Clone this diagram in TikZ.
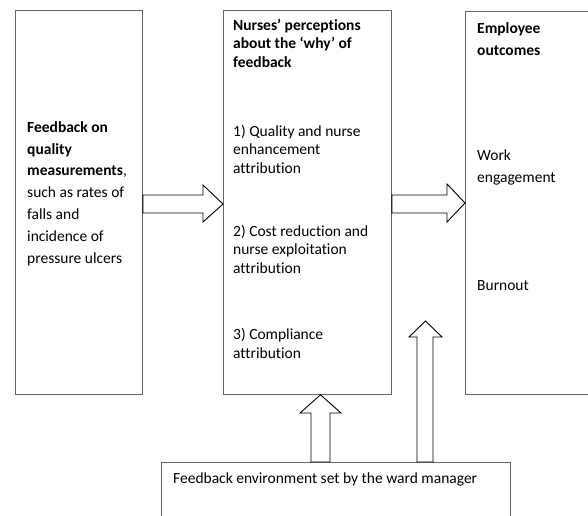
\documentclass[tikz,border=0pt]{standalone}
\usepackage{fontspec}
\setmainfont[Ligatures=NoCommon]{Carlito}
\usepackage{tikz}

\begin{document}
\begin{tikzpicture}[x=1pt, y=-1pt,
    box/.style={draw=black!60, line width=0.8pt, anchor=north west},
    txt/.style={anchor=base west, align=left, inner sep=0pt, font=\fontsize{15.5}{18.3}\selectfont},
    widetxt/.style={txt, font=\fontsize{15.5}{21.8}\selectfont},
    hollow/.style={draw=black, line width=0.9pt, fill=white}]
  \clip (0,0) rectangle (588,515);

  % Boxes
  \node[box, minimum width=127pt, minimum height=384pt] (quality) at (15,10) {};
  \node[box, minimum width=168pt, minimum height=384pt] (why) at (223,10) {};
  \node[box, minimum width=150pt, minimum height=383pt] (outcomes) at (465,11) {};
  \node[box, minimum width=349pt, minimum height=80pt] (environment) at (161,462) {};

  % Texts in the boxes (placed at the baseline of their last line)
  \node[widetxt] (qualitytext) at (27,263) {\textbf{Feedback on}\\\textbf{quality}\\\textbf{measurements},\\such as rates of\\falls and\\incidence of\\pressure ulcers};
  \node[txt] (whytitle) at (233,67) {\textbf{Nurses’ perceptions}\\\textbf{about the ‘why’ of}\\\textbf{feedback}};
  \node[txt] (attrone) at (233,173) {1) Quality and nurse\\enhancement\\attribution};
  \node[txt] (attrtwo) at (233,273) {2) Cost reduction and\\nurse exploitation\\attribution};
  \node[txt] (attrthree) at (233,358) {3) Compliance\\attribution};
  \node[widetxt] (outtitle) at (477,55) {\textbf{Employee}\\\textbf{outcomes}};
  \node[widetxt] (engagement) at (477,182) {Work\\engagement};
  \node[txt] (burnout) at (477,290) {Burnout};
  \node[txt] (envtext) at (173,483) {Feedback environment set by the ward manager};

  % Block arrows between the boxes
  \draw[hollow] (quality.east |- 0,195) -- (203,195) -- (203,185) -- (why.west |- 0,204)
    -- (203,222) -- (203,213) -- (quality.east |- 0,213) -- cycle;
  \draw[hollow] (why.east |- 0,195) -- (447,195) -- (447,184) -- (outcomes.west |- 0,203)
    -- (447,222) -- (447,213) -- (why.east |- 0,213) -- cycle;

  % Block arrows from the ward manager
  \draw[hollow] (311,0 |- environment.north) -- (311,413) -- (300,413) -- (why.south -| 320.5,0)
    -- (341,413) -- (330,413) -- (330,0 |- environment.north) -- cycle;
  \draw[hollow] (417,0 |- environment.north) -- (417,337) -- (409,337) -- (425.5,321)
    -- (442,337) -- (433,337) -- (433,0 |- environment.north) -- cycle;
\end{tikzpicture}
\end{document}
